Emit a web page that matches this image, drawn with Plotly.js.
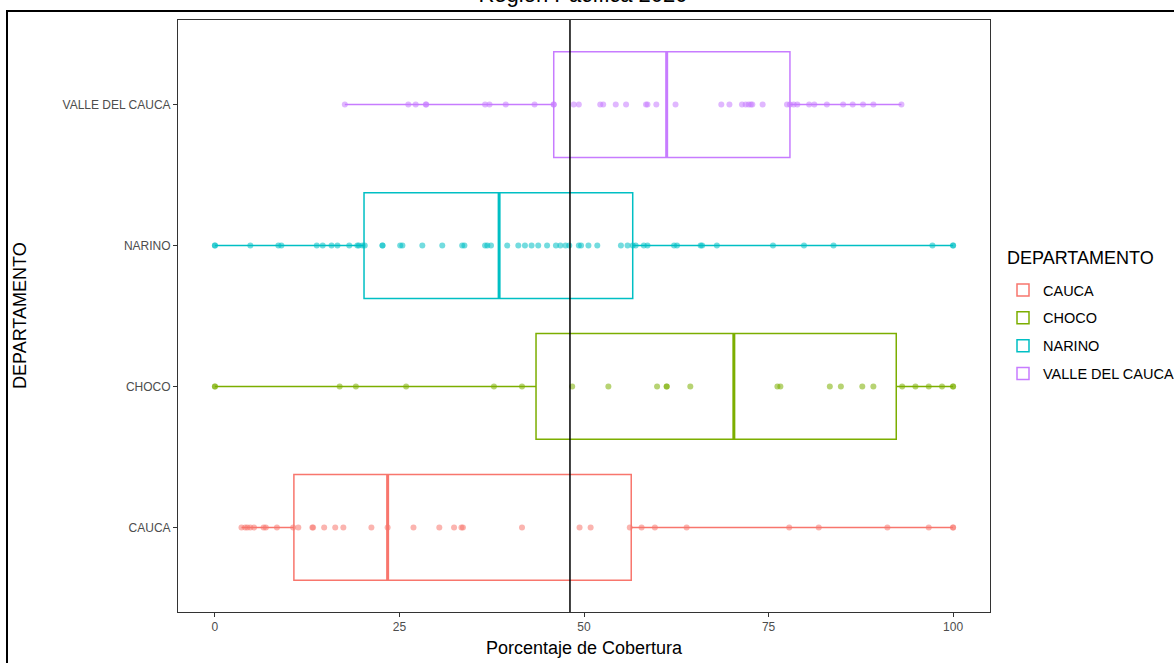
<!DOCTYPE html>
<html>
<head>
<meta charset="utf-8">
<script src="https://cdn.plot.ly/plotly-3.0.1.min.js"></script>
<style>html,body{margin:0;padding:0;background:#fff;}#chart{width:1174px;height:663px;}</style>
</head>
<body>
<div id="chart"></div>
<script>
// ---- data ----
var categories = ['CAUCA', 'CHOCO', 'NARINO', 'VALLE DEL CAUCA'];
var colors = ['#F8766D', '#7CAE00', '#00BFC4', '#C77CFF'];

var q1Values = [10.7, 43.5, 20.2, 45.9];
var medianValues = [23.4, 70.3, 38.5, 61.2];
var q3Values = [56.4, 92.3, 56.6, 77.9];
var lowerFenceValues = [3.6, 0, 0, 17.6];
var upperFenceValues = [100, 100, 100, 93.0];

var caucaPoints = [3.6, 4.1, 4.4, 4.8, 5.3, 6.6, 6.9, 8.4, 10.6, 11.3, 13.2, 13.3, 14.8, 16.3, 17.4,
  21.2, 23.4, 26.9, 30.4, 32.4, 33.4, 33.6, 41.6, 49.4, 50.9, 56.2, 57.8, 59.6, 63.9, 77.8,
  81.8, 91.1, 96.7, 100, 100];
var chocoPoints = [0, 0, 16.9, 19.1, 25.9, 37.8, 41.6, 48.4, 53.3, 59.9, 61.2, 61.2, 64.4, 76.2,
  76.6, 83.3, 84.8, 87.7, 89.2, 93.1, 94.9, 96.7, 98.5, 100, 100];
var narinoPoints = [0, 0, 4.8, 8.6, 9.0, 13.8, 14.6, 15.8, 16.6, 18.2, 19.3, 19.5, 20.0, 20.3, 22.7,
  22.7, 25.1, 25.4, 28.1, 30.8, 33.5, 33.8, 36.6, 36.9, 37.4, 39.6, 41.1, 42.0, 42.9, 43.8,
  45.0, 46.2, 46.8, 47.5, 48.0, 49.3, 49.6, 50.6, 51.8, 55.0, 55.9, 56.6, 57.0, 58.1, 58.6,
  62.2, 62.6, 65.8, 66.0, 68.0, 75.6, 79.8, 83.8, 97.2, 100, 100];
var vallePoints = [17.6, 26.2, 27.2, 28.6, 28.6, 36.6, 37.2, 39.4, 43.3, 45.9, 45.9, 48.6, 49.3,
  52.2, 52.6, 54.3, 55.7, 58.4, 58.6, 59.8, 62.4, 68.6, 69.7, 71.4, 71.9, 72.3, 72.6, 72.8,
  74.2, 77.5, 77.9, 78.4, 78.9, 80.5, 81.2, 82.9, 85.1, 86.4, 87.8, 89.2, 93.0];
var pointSets = [caucaPoints, chocoPoints, narinoPoints, vallePoints];

var referenceLine = 48.1;
var xTicks = [0, 25, 50, 75, 100];

var titleText = 'Región Pacífica 2020';
var xTitle = 'Porcentaje de Cobertura';
var yTitle = 'DEPARTAMENTO';
var legendTitle = 'DEPARTAMENTO';

// ---- build traces ----
var boxWidth = 0.75;
var traces = [];
categories.forEach(function (cat, i) {
  traces.push({
    type: 'box', orientation: 'h', name: cat, legendgroup: cat,
    y: [i], q1: [q1Values[i]], median: [medianValues[i]], q3: [q3Values[i]],
    lowerfence: [lowerFenceValues[i]], upperfence: [upperFenceValues[i]],
    width: boxWidth, whiskerwidth: 0, boxpoints: false,
    line: { color: colors[i], width: 1.5 }, fillcolor: 'rgba(255,255,255,0)',
    hoverinfo: 'skip'
  });
});
categories.forEach(function (cat, i) {
  traces.push({
    type: 'scatter', mode: 'lines', showlegend: false, hoverinfo: 'skip',
    x: [medianValues[i], medianValues[i]], y: [i - boxWidth / 2, i + boxWidth / 2],
    line: { color: colors[i], width: 3 }
  });
});
categories.forEach(function (cat, i) {
  traces.push({
    type: 'scatter', mode: 'markers', showlegend: false, hoverinfo: 'skip',
    x: pointSets[i], y: pointSets[i].map(function () { return i; }),
    marker: { color: colors[i], size: 6, opacity: 0.55, line: { width: 0 } }
  });
});

var L = 178, R = 990, T = 20, B = 612, W = 1174, H = 663;
function px(x) { return (x - L) / (R - L); }
function py(y) { return (B - y) / (B - T); }

var layout = {
  width: W, height: H,
  margin: { l: L, r: W - R, t: T, b: H - B, autoexpand: false },
  paper_bgcolor: '#ffffff', plot_bgcolor: '#ffffff',
  font: { family: 'Liberation Sans, Arial, sans-serif', color: '#000' },
  title: { text: titleText, font: { size: 22, color: '#000' }, x: 583 / W, xanchor: 'center',
           xref: 'container', yref: 'container', y: 1 - 2 / H, yanchor: 'bottom' },
  xaxis: {
    range: [-5, 105], tickvals: xTicks, ticktext: xTicks.map(String),
    showgrid: false, zeroline: false, showline: true, mirror: true,
    linecolor: '#333333', linewidth: 1, ticks: 'outside', ticklen: 4, tickcolor: '#333333',
    tickfont: { size: 12, color: '#4D4D4D' }
  },
  yaxis: {
    range: [-0.6, 3.6], tickvals: [0, 1, 2, 3], ticktext: categories,
    showgrid: false, zeroline: false, showline: true, mirror: true,
    linecolor: '#333333', linewidth: 1, ticks: 'outside', ticklen: 4, tickcolor: '#333333',
    tickfont: { size: 12, color: '#4D4D4D' }
  },
  showlegend: true,
  legend: {
    x: px(1003), xanchor: 'left', y: py(332), yanchor: 'middle',
    font: { size: 14.5, color: '#000' }, traceorder: 'grouped', tracegroupgap: 6,
    bgcolor: 'rgba(0,0,0,0)'
  },
  shapes: [
    { type: 'line', xref: 'x', yref: 'paper', x0: referenceLine, x1: referenceLine, y0: 0, y1: 1,
      line: { color: '#000', width: 1.5 } },
    { type: 'rect', xref: 'paper', yref: 'paper', x0: px(7), x1: px(1200), y0: py(700), y1: py(11),
      line: { color: '#000', width: 2 }, fillcolor: 'rgba(0,0,0,0)' }
  ],
  annotations: [
    { text: xTitle, xref: 'paper', yref: 'paper', x: 0.5, y: py(636), xanchor: 'center', yanchor: 'top',
      showarrow: false, font: { size: 18, color: '#000' } },
    { text: yTitle, xref: 'paper', yref: 'paper', x: px(20), y: 0.5, xanchor: 'center', yanchor: 'middle',
      textangle: -90, showarrow: false, font: { size: 18, color: '#000' } },
    { text: legendTitle, xref: 'paper', yref: 'paper', x: px(1005), y: py(258), xanchor: 'left', yanchor: 'middle',
      showarrow: false, font: { size: 18, color: '#000' } }
  ]
};

Plotly.newPlot('chart', traces, layout, { displayModeBar: false, staticPlot: true });
</script>
</body>
</html>
